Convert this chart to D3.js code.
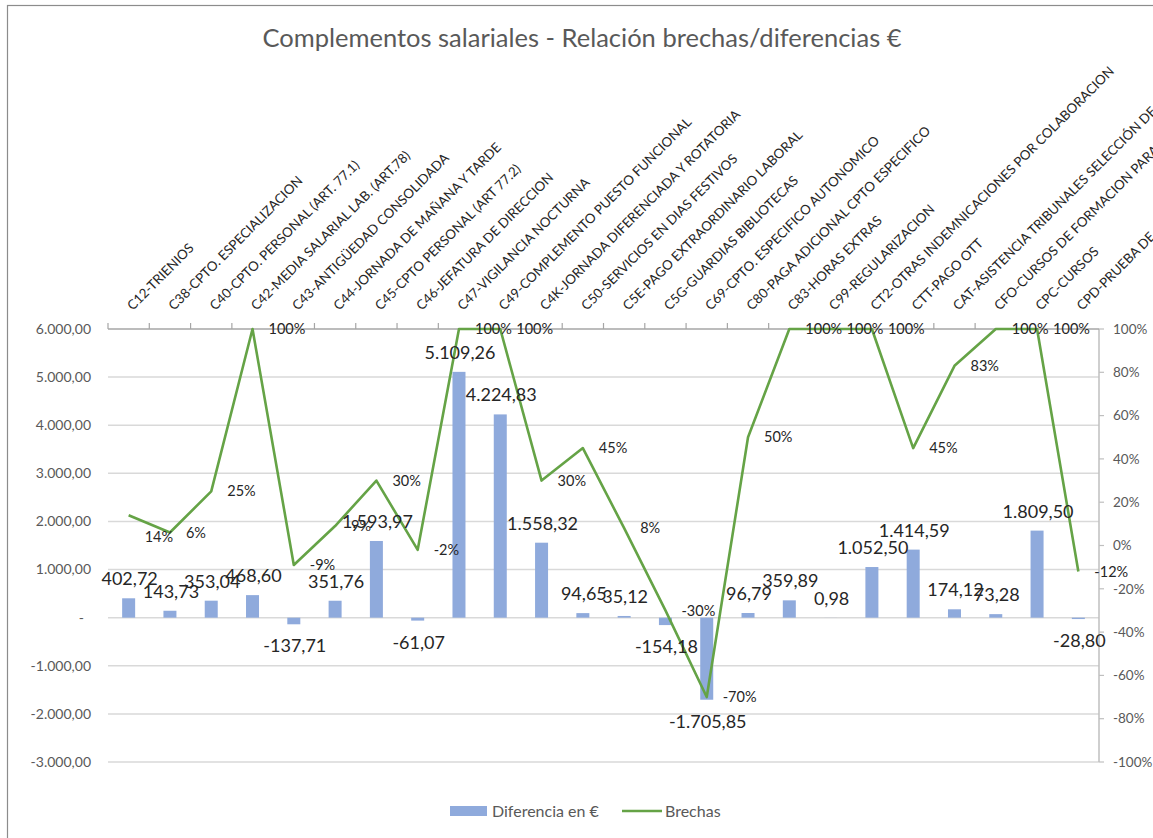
<!DOCTYPE html>
<html>
<head>
<meta charset="utf-8">
<script src="https://cdn.jsdelivr.net/npm/d3@7"></script>
<style>
  body { margin: 0; background: #fff; }
  svg { font-family: Lato, "Open Sans", sans-serif; }
</style>
</head>
<body>
<svg width="1153" height="838"></svg>
<script>
// categories (concepto salarial)
const categories = [
  "C12-TRIENIOS",
  "C38-CPTO. ESPECIALIZACION",
  "C40-CPTO. PERSONAL (ART. 77.1)",
  "C42-MEDIA SALARIAL LAB. (ART.78)",
  "C43-ANTIGÜEDAD CONSOLIDADA",
  "C44-JORNADA DE MAÑANA Y TARDE",
  "C45-CPTO PERSONAL (ART 77.2)",
  "C46-JEFATURA DE DIRECCION",
  "C47-VIGILANCIA NOCTURNA",
  "C49-COMPLEMENTO PUESTO FUNCIONAL",
  "C4K-JORNADA DIFERENCIADA Y ROTATORIA",
  "C50-SERVICIOS EN DIAS FESTIVOS",
  "C5E-PAGO EXTRAORDINARIO LABORAL",
  "C5G-GUARDIAS BIBLIOTECAS",
  "C69-CPTO. ESPECIFICO AUTONOMICO",
  "C80-PAGA ADICIONAL CPTO ESPECIFICO",
  "C83-HORAS EXTRAS",
  "C99-REGULARIZACION",
  "CT2-OTRAS INDEMNICACIONES POR COLABORACION",
  "CTT-PAGO OTT",
  "CAT-ASISTENCIA TRIBUNALES SELECCIÓN DE PERSONAL",
  "CFO-CURSOS DE FORMACION PARA EL PERSONAL",
  "CPC-CURSOS",
  "CPD-PRUEBA DE ACCESO"
];

// Diferencia en €
const diferencias = [
  402.72, 143.73, 353.04, 468.60, -137.71, 351.76, 1593.97, -61.07,
  5109.26, 4224.83, 1558.32, 94.65, 35.12, -154.18, -1705.85, 96.79,
  359.89, 0.98, 1052.50, 1414.59, 174.12, 73.28, 1809.50, -28.80
];

// Brechas (%)
const brechas = [
  14, 6, 25, 100, -9, 9, 30, -2,
  100, 100, 30, 45, 8, -30, -70, 50,
  100, 100, 100, 45, 83, 100, 100, -12
];

const leftTicks = [6000, 5000, 4000, 3000, 2000, 1000, 0, -1000, -2000, -3000];
const rightTicks = [100, 80, 60, 40, 20, 0, -20, -40, -60, -80, -100];

const svg = d3.select("svg");
const W = 1153, H = 838;
const plot = { left: 108, right: 1099, top: 329, bottom: 762 };

const barColor = "#8FAADC";
const lineColor = "#65A346";
const axisGray = "#595959";

// chart border
svg.append("rect")
  .attr("x", 7.5).attr("y", 5.5)
  .attr("width", W).attr("height", H)
  .attr("fill", "none").attr("stroke", "#8c8c8c").attr("stroke-width", 1.2);

svg.append("text")
  .attr("x", 582).attr("y", 47)
  .attr("text-anchor", "middle")
  .attr("font-size", 25.5)
  .attr("fill", axisGray)
  .text("Complementos salariales - Relación brechas/diferencias €");

const x = d3.scaleBand().domain(categories).range([plot.left, plot.right]).padding(0);
const yL = d3.scaleLinear().domain([-3000, 6000]).range([plot.bottom, plot.top]);
const yR = d3.scaleLinear().domain([-100, 100]).range([plot.bottom, plot.top]);

const euro = d3.formatLocale({ decimal: ",", thousands: ".", grouping: [3], currency: ["", "€"], minus: "-" });
const fmt = euro.format(",.2f");

// gridlines
svg.append("g")
  .selectAll("line")
  .data(leftTicks.filter((d) => d !== 6000))
  .join("line")
  .attr("x1", plot.left).attr("x2", plot.right)
  .attr("y1", (d) => yL(d)).attr("y2", (d) => yL(d))
  .attr("stroke", "#D9D9D9").attr("stroke-width", 1.5);

// left axis labels
svg.append("g")
  .selectAll("text")
  .data(leftTicks)
  .join("text")
  .attr("x", (d) => (d === 0 ? 84 : 91))
  .attr("y", (d) => yL(d))
  .attr("dy", "0.35em")
  .attr("text-anchor", "end")
  .attr("font-size", 14)
  .attr("fill", axisGray)
  .text((d) => (d === 0 ? "-" : fmt(d)));

// right axis
const rAxis = svg.append("g").attr("transform", `translate(${plot.right},0)`);
rAxis.append("line")
  .attr("y1", plot.top).attr("y2", plot.bottom)
  .attr("stroke", "#BFBFBF").attr("stroke-width", 1.5);
rAxis.selectAll(".rt")
  .data(rightTicks)
  .join("line")
  .attr("class", "rt")
  .attr("x1", 0).attr("x2", 5)
  .attr("y1", (d) => yR(d)).attr("y2", (d) => yR(d))
  .attr("stroke", "#BFBFBF").attr("stroke-width", 1.2);
rAxis.selectAll("text")
  .data(rightTicks)
  .join("text")
  .attr("x", 14)
  .attr("y", (d) => yR(d))
  .attr("dy", "0.35em")
  .attr("font-size", 13.5)
  .attr("fill", axisGray)
  .text((d) => d + "%");

// bars
const bw = 13;
svg.append("g")
  .selectAll("rect")
  .data(diferencias)
  .join("rect")
  .attr("x", (d, i) => x(categories[i]) + x.bandwidth() / 2 - bw / 2)
  .attr("y", (d) => yL(Math.max(0, d)))
  .attr("width", bw)
  .attr("height", (d) => Math.abs(yL(d) - yL(0)))
  .attr("fill", barColor);

// category axis on top
const cAxis = svg.append("g");
cAxis.append("line")
  .attr("x1", plot.left).attr("x2", plot.right)
  .attr("y1", plot.top).attr("y2", plot.top)
  .attr("stroke", "#A6A6A6").attr("stroke-width", 1.5);
cAxis.selectAll(".ct")
  .data(categories)
  .join("line")
  .attr("class", "ct")
  .attr("x1", (d) => x(d)).attr("x2", (d) => x(d))
  .attr("y1", plot.top).attr("y2", plot.top - 6)
  .attr("stroke", "#A6A6A6").attr("stroke-width", 1.2);
cAxis.selectAll("text")
  .data(categories)
  .join("text")
  .attr("transform", (d) => `translate(${x(d) + x.bandwidth() / 2 + 4},311) rotate(-45)`)
  .attr("font-size", 13.3)
  .attr("fill", "#262626")
  .text((d) => d);

// brechas line
const line = d3.line()
  .x((d, i) => x(categories[i]) + x.bandwidth() / 2)
  .y((d) => yR(d));
svg.append("path")
  .datum(brechas)
  .attr("d", line)
  .attr("fill", "none")
  .attr("stroke", lineColor)
  .attr("stroke-width", 2.6)
  .attr("stroke-linejoin", "round");

// bar labels
svg.append("g")
  .selectAll("text")
  .data(diferencias)
  .join("text")
  .attr("x", (d, i) => x(categories[i]) + x.bandwidth() / 2 + 1)
  .attr("y", (d) => (d >= 0 ? yL(d) - 13 : yL(d) + 28))
  .attr("text-anchor", "middle")
  .attr("font-size", 18)
  .attr("fill", "#262626")
  .text((d) => fmt(d));

// brechas labels (first one was moved down in the original)
const brechaLabelShift = [22];
svg.append("g")
  .selectAll("text")
  .data(brechas)
  .join("text")
  .attr("x", (d, i) => x(categories[i]) + x.bandwidth() / 2 + 16)
  .attr("y", (d, i) => yR(d) + (brechaLabelShift[i] || 0))
  .attr("dy", "0.35em")
  .attr("font-size", 14.5)
  .attr("fill", "#262626")
  .text((d) => d + "%");

// legend
const lg = svg.append("g").attr("transform", "translate(0,811)");
lg.append("rect").attr("x", 450).attr("y", -5).attr("width", 37).attr("height", 10).attr("fill", barColor);
lg.append("text").attr("x", 492).attr("dy", "0.35em").attr("font-size", 16).attr("fill", axisGray).text("Diferencia en €");
lg.append("line").attr("x1", 622).attr("x2", 662).attr("stroke", lineColor).attr("stroke-width", 2.6);
lg.append("text").attr("x", 665).attr("dy", "0.35em").attr("font-size", 16).attr("fill", axisGray).text("Brechas");
</script>
</body>
</html>
